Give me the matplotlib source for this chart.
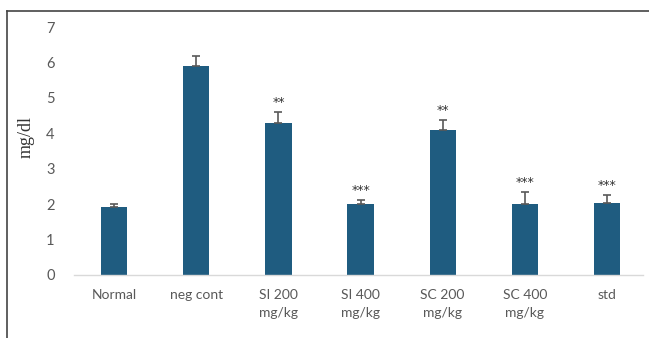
import matplotlib.pyplot as plt
import numpy as np
from matplotlib.lines import Line2D

groups = ['Normal', 'neg cont', 'SI 200\nmg/kg', 'SI 400\nmg/kg', 'SC 200\nmg/kg', 'SC 400\nmg/kg', 'std']
means = [1.92, 5.90, 4.30, 2.00, 4.10, 2.00, 2.02]
errors = [0.09, 0.29, 0.30, 0.13, 0.28, 0.34, 0.25]
stars = ['', '', '**', '***', '**', '***', '***']

fig = plt.figure(figsize=(6.49, 3.38), dpi=100)
ax = fig.add_axes([74 / 649, 1 - 275 / 338, (643 - 74) / 649, (275 - 27) / 338])

x = np.arange(len(groups))
ax.bar(x, means, width=0.32, color='#1f5c80', zorder=2)
ax.errorbar(x, means, yerr=[np.zeros(len(means)), errors], fmt='none',
            ecolor='#595959', elinewidth=1.2, capsize=3, capthick=1.2, zorder=3)

for xi, m, e, s in zip(x, means, errors, stars):
    if s:
        ax.annotate(s, (xi, m + e), xytext=(0, 2), textcoords='offset points',
                    ha='center', va='bottom', fontsize=9, color='#333333')

ax.set_xlim(-0.49, 6.44)
ax.set_ylim(0, 7)
ax.set_yticks(range(8))
ax.set_xticks(x)
ax.set_xticklabels(groups, fontfamily='Lato', fontsize=10, color='#595959', linespacing=1.65)
for lbl in ax.get_yticklabels():
    lbl.set_fontfamily('Lato')
    lbl.set_fontsize(10.5)
    lbl.set_color('#595959')
ax.tick_params(length=0)
ax.tick_params(axis='x', pad=10)
ax.tick_params(axis='y', pad=14)

for side in ['top', 'right', 'left']:
    ax.spines[side].set_visible(False)
ax.spines['bottom'].set_color('#d9d9d9')
ax.spines['bottom'].set_linewidth(1)

ax.set_ylabel('mg/dl', fontfamily='Liberation Serif', fontsize=13, color='#333333')
ax.yaxis.set_label_coords((35 - 74) / 569, (275 - 137) / 248)

# outer frame: top and left edges only
fig.add_artist(Line2D([7 / 649, 1], [1 - 11 / 338, 1 - 11 / 338], color='#444444', lw=1.2,
                      transform=fig.transFigure))
fig.add_artist(Line2D([7 / 649, 7 / 649], [0, 1 - 11 / 338], color='#444444', lw=1.2,
                      transform=fig.transFigure))

fig.savefig('out.png', dpi=100)
